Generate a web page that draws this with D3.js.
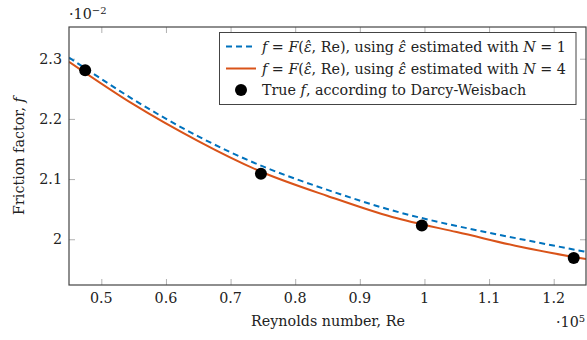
<!DOCTYPE html>
<html><head><meta charset="utf-8">
<script src="https://cdn.jsdelivr.net/npm/d3@7"></script>
<style>
html,body{margin:0;padding:0;background:#fff;}
svg{display:block;font-family:"DejaVu Serif",serif;}
</style></head>
<body><svg id="c" width="587" height="340"></svg>
<script>
// Data (Re in units of 1e5, f in units of 1e-2)
const reN1 = [0.45, 0.55, 0.65, 0.75, 0.85, 0.95, 1.05, 1.15, 1.25];
const fN1  = [2.302, 2.232, 2.171, 2.121, 2.082, 2.048, 2.022, 2.000, 1.979];
const reN4 = [0.45, 0.55, 0.65, 0.75, 0.85, 0.95, 1.05, 1.15, 1.25];
const fN4  = [2.295, 2.224, 2.163, 2.111, 2.072, 2.037, 2.012, 1.987, 1.967];
const reTrue = [0.475, 0.747, 0.996, 1.231];
const fTrue  = [2.281, 2.109, 2.023, 1.969];
const xTicks = [0.5, 0.6, 0.7, 0.8, 0.9, 1.0, 1.1, 1.2];
const xTickLabels = ["0.5","0.6","0.7","0.8","0.9","1","1.1","1.2"];
const yTicks = [2.0, 2.1, 2.2, 2.3];
const yTickLabels = ["2","2.1","2.2","2.3"];

const svg = d3.select("#c");
const L = 69, R = 586, T = 27, B = 285;
const x = d3.scaleLinear().domain([0.45, 1.25]).range([L, R]);
const y = d3.scaleLinear().domain([1.924, 2.3527]).range([B, T]);
const txt = "#222";
const blue = "#0072BD", orange = "#D95319";
const fs = 14.3;

// ticks (inside, mirrored)
const tl = 6, tc = "#b0b0b0";
const g = svg.append("g");
g.append("g").attr("transform",`translate(0,${B})`)
  .call(d3.axisBottom(x).tickValues(xTicks).tickSizeInner(-tl).tickSizeOuter(0).tickFormat(""))
  .call(s=>{s.select(".domain").remove(); s.selectAll("line").attr("stroke",tc);});
g.append("g").attr("transform",`translate(0,${T})`)
  .call(d3.axisTop(x).tickValues(xTicks).tickSizeInner(-tl).tickSizeOuter(0).tickFormat(""))
  .call(s=>{s.select(".domain").remove(); s.selectAll("line").attr("stroke",tc);});
g.append("g").attr("transform",`translate(${L},0)`)
  .call(d3.axisLeft(y).tickValues(yTicks).tickSizeInner(-tl).tickSizeOuter(0).tickFormat(""))
  .call(s=>{s.select(".domain").remove(); s.selectAll("line").attr("stroke",tc);});
g.append("g").attr("transform",`translate(${R},0)`)
  .call(d3.axisRight(y).tickValues(yTicks).tickSizeInner(-tl).tickSizeOuter(0).tickFormat(""))
  .call(s=>{s.select(".domain").remove(); s.selectAll("line").attr("stroke",tc);});

// tick labels
svg.append("g").selectAll("text").data(xTicks).join("text")
  .attr("x", d=>x(d)).attr("y", B+18).attr("text-anchor","middle")
  .attr("font-size", fs).attr("fill", txt)
  .text((d,i)=>xTickLabels[i]);
svg.append("g").selectAll("text").data(yTicks).join("text")
  .attr("x", L-7).attr("y", d=>y(d)+5).attr("text-anchor","end")
  .attr("font-size", fs).attr("fill", txt)
  .text((d,i)=>yTickLabels[i]);

// clip
svg.append("clipPath").attr("id","clip").append("rect")
  .attr("x",L).attr("y",T).attr("width",R-L).attr("height",B-T);
const plot = svg.append("g").attr("clip-path","url(#clip)");
const line = d3.line().curve(d3.curveNatural);
plot.append("path").attr("d", line(reN1.map((r,i)=>[x(r), y(fN1[i])])))
  .attr("fill","none").attr("stroke",blue).attr("stroke-width",2).attr("stroke-dasharray","6,4");
plot.append("path").attr("d", line(reN4.map((r,i)=>[x(r), y(fN4[i])])))
  .attr("fill","none").attr("stroke",orange).attr("stroke-width",2);
svg.append("g").selectAll("circle").data(reTrue).join("circle")
  .attr("cx", d=>x(d)).attr("cy",(d,i)=>y(fTrue[i])).attr("r",6).attr("fill","#000");

// frame
svg.append("rect").attr("x",L).attr("y",T).attr("width",R-L).attr("height",B-T)
  .attr("fill","none").attr("stroke","#444").attr("stroke-width",1.2);

// axis labels
svg.append("text").attr("x",328).attr("y",326).attr("text-anchor","middle")
  .attr("font-size",fs).attr("fill",txt).text("Reynolds number, Re");
const yl = svg.append("text").attr("transform",`translate(24,${(T+B)/2}) rotate(-90)`)
  .attr("text-anchor","middle").attr("font-size",fs).attr("fill",txt);
yl.append("tspan").text("Friction factor, ");
yl.append("tspan").attr("font-style","italic").text("f");

// multipliers
const m1 = svg.append("text").attr("x",69).attr("y",19).attr("font-size",fs).attr("fill",txt);
m1.append("tspan").text("·10");
m1.append("tspan").attr("dy",-5).attr("font-size",10).text("−2");
const m2 = svg.append("text").attr("x",556).attr("y",327).attr("font-size",fs).attr("fill",txt);
m2.append("tspan").text("·10");
m2.append("tspan").attr("dy",-5).attr("font-size",10).text("5");

// legend
const lg = svg.append("g");
lg.append("rect").attr("x",219.5).attr("y",32.5).attr("width",356.5).attr("height",72)
  .attr("fill","#fff").attr("stroke","#444").attr("stroke-width",1);
const rows = [46.5, 68.5, 90];
lg.append("line").attr("x1",226).attr("x2",256).attr("y1",rows[0]).attr("y2",rows[0])
  .attr("stroke",blue).attr("stroke-width",2).attr("stroke-dasharray","6,4");
lg.append("line").attr("x1",226).attr("x2",256).attr("y1",rows[1]).attr("y2",rows[1])
  .attr("stroke",orange).attr("stroke-width",2);
lg.append("circle").attr("cx",241).attr("cy",rows[2]).attr("r",6).attr("fill","#000");
function legText(yy, parts){
  const t = lg.append("text").attr("x",262).attr("y",yy+5).attr("font-size",fs).attr("fill",txt);
  parts.forEach(p=>{ const s=t.append("tspan").text(p[0]); if(p[1]) s.attr("font-style","italic"); });
}
legText(rows[0], [["f",1],[" = "],["F",1],["("],["ε̂",1],[", Re), using "],["ε̂",1],[" estimated with "],["N",1],[" = 1"]]);
legText(rows[1], [["f",1],[" = "],["F",1],["("],["ε̂",1],[", Re), using "],["ε̂",1],[" estimated with "],["N",1],[" = 4"]]);
legText(rows[2], [["True "],["f",1],[", according to Darcy-Weisbach"]]);
</script></body></html>
